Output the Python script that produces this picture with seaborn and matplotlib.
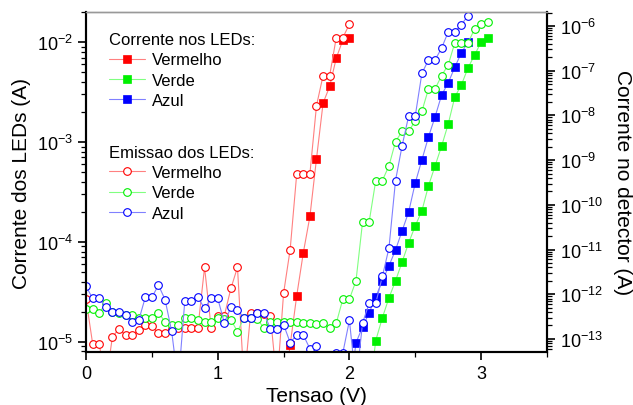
import numpy as np
import matplotlib
matplotlib.use('Agg')
import matplotlib.pyplot as plt
from matplotlib import ticker
import seaborn as sns

# tensao aplicada (V), passo de 0.05 V
tensao = [0.00, 0.05, 0.10, 0.15, 0.20, 0.25, 0.30, 0.35, 0.40, 0.45,
          0.50, 0.55, 0.60, 0.65, 0.70, 0.75, 0.80, 0.85, 0.90, 0.95,
          1.00, 1.05, 1.10, 1.15, 1.20, 1.25, 1.30, 1.35, 1.40, 1.45,
          1.50, 1.55, 1.60, 1.65, 1.70, 1.75, 1.80, 1.85, 1.90, 1.95,
          2.00, 2.05, 2.10, 2.15, 2.20, 2.25, 2.30, 2.35, 2.40, 2.45,
          2.50, 2.55, 2.60, 2.65, 2.70, 2.75, 2.80, 2.85, 2.90, 2.95,
          3.00, 3.05]

# corrente nos LEDs (A) - eixo esquerdo
v_cor_verm = tensao[30:41]
i_verm = [3e-6, 9.3e-6, 2.9e-5, 7.8e-5, 1.8e-4, 6.8e-4, 2.45e-3, 3.6e-3,
          6.9e-3, 1.05e-2, 1.1e-2]
v_cor_verd = tensao[43:62]
i_verd = [3e-6, 1.03e-5, 1.74e-5, 2.75e-5, 4.07e-5, 6.3e-5, 9.8e-5, 1.45e-4,
          2.04e-4, 3.63e-4, 5.75e-4, 9.1e-4, 1.51e-3, 2.82e-3, 3.72e-3,
          5.5e-3, 7.4e-3, 1.0e-2, 1.1e-2]
v_cor_azul = tensao[40:59]
i_azul = [3e-6, 9.8e-6, 1.41e-5, 1.95e-5, 2.82e-5, 4.07e-5, 5.75e-5, 8.3e-5,
          1.29e-4, 2.0e-4, 3.9e-4, 6.6e-4, 1.12e-3, 1.78e-3, 2.95e-3,
          3.9e-3, 5.6e-3, 7.8e-3, 1.0e-2]

# corrente no detector (A) - eixo direito (1e-14 = abaixo da escala)
v_em_verm = tensao[0:41]
d_verm = [7.8e-13, 7.9e-14, 7.9e-14, 1e-14, 1.1e-13, 1.7e-13, 1.2e-13, 1.2e-13,
          1.6e-13, 2.1e-13, 1.9e-13, 1.35e-13, 1.35e-13, 1.7e-13, 1.8e-13,
          1.8e-13, 1.8e-13, 1.8e-13, 4.0e-12, 1.8e-13, 3.3e-13, 3.3e-13,
          1.35e-12, 4.0e-12, 1e-14, 3.8e-13, 3.8e-13, 3.6e-13, 3.3e-13, 1e-14,
          1.05e-12, 1.0e-11, 5.0e-10, 5.0e-10, 5.0e-10, 1.66e-8, 7.8e-8,
          7.8e-8, 5.5e-7, 5.5e-7, 1.1e-6]
v_em_verd = tensao[0:62]
d_verd = [4.7e-13, 4.7e-13, 3.8e-13, 6.3e-13, 4.0e-13, 3.8e-13, 3.5e-13, 3.5e-13,
          3.0e-13, 3.0e-13, 3.0e-13, 3.8e-13, 2.45e-13, 2.0e-13, 2.0e-13,
          2.9e-13, 2.9e-13, 2.7e-13, 2.45e-13, 2.45e-13, 2.9e-13, 2.75e-13,
          2.7e-13, 1.45e-13, 3.0e-13, 3.0e-13, 2.75e-13, 1.8e-13, 2.45e-13,
          2.45e-13, 2.45e-13, 2.45e-13, 2.4e-13, 2.3e-13, 2.25e-13, 2.2e-13,
          2.25e-13, 1.75e-13, 2.25e-13, 7.8e-13, 7.8e-13, 2.0e-12, 4.2e-11,
          4.2e-11, 3.5e-10, 3.5e-10, 7.4e-10, 2.6e-9, 4.4e-9, 4.4e-9, 7.6e-9,
          1.23e-8, 3.9e-8, 3.9e-8, 7.8e-8, 1.35e-7, 4.2e-7, 4.2e-7, 4.2e-7,
          8.5e-7, 1.1e-6, 1.26e-6]
v_em_azul = tensao[0:59]
d_azul = [1.5e-12, 8.1e-13, 8.1e-13, 5.1e-13, 4.1e-13, 4.1e-13, 3.4e-13, 2.35e-13,
          2.6e-13, 8.5e-13, 8.5e-13, 1.6e-12, 7.6e-13, 1.5e-13, 1e-14, 7.1e-13,
          7.1e-13, 8.5e-13, 4.8e-13, 8.1e-13, 8.1e-13, 2.3e-13, 5.1e-13,
          4.5e-13, 2.95e-13, 2.95e-13, 3.8e-13, 3.8e-13, 1.7e-13, 1.7e-13,
          2.1e-13, 8.3e-14, 1.23e-13, 1.23e-13, 6.0e-14, 7.1e-14, 1e-14, 1e-14,
          4.9e-14, 4.9e-14, 2.6e-13, 1e-14, 2.3e-13, 6.3e-13, 6.3e-13, 2.5e-12,
          1.07e-11, 3.5e-10, 2.1e-9, 9.8e-9, 9.8e-9, 8.7e-8, 1.74e-7, 1.74e-7,
          3.2e-7, 7.4e-7, 7.4e-7, 1.07e-6, 1.7e-6]

nomes = ['Vermelho', 'Verde', 'Azul']
cores = ['#ff0000', '#00f000', '#0000ff']
cores_linha = ['#ff8080', '#80ff80', '#8080ff']

sns.set_style('ticks', {'axes.edgecolor': 'black', 'xtick.color': 'black',
                        'ytick.color': 'black', 'text.color': 'black',
                        'axes.labelcolor': 'black'})
plt.rcParams['font.family'] = ['Liberation Sans', 'DejaVu Sans']
plt.rcParams['mathtext.default'] = 'regular'

fig, ax = plt.subplots(figsize=(6.33, 4.06), dpi=100)
fig.subplots_adjust(left=0.1359, right=0.8641, top=0.968, bottom=0.1305)
ax2 = ax.twinx()
ax.set_yscale('log')
ax2.set_yscale('log')

correntes = [(v_cor_verm, i_verm), (v_cor_verd, i_verd), (v_cor_azul, i_azul)]
emissoes = [(v_em_verm, d_verm), (v_em_verd, d_verd), (v_em_azul, d_azul)]

for (v, i), nome, c, cl in zip(correntes, nomes, cores, cores_linha):
    sns.lineplot(x=v, y=i, ax=ax, color=cl, linewidth=0.8, marker='s',
                 markersize=5.5, markerfacecolor=c, markeredgecolor=c,
                 markeredgewidth=0.5, label=nome, legend=False)

for (v, d), nome, c, cl in zip(emissoes, nomes, cores, cores_linha):
    sns.lineplot(x=v, y=d, ax=ax2, color=cl, linewidth=0.8, marker='o',
                 markersize=5.5, markerfacecolor='white', markeredgecolor=c,
                 markeredgewidth=0.8, label=nome, legend=False)

ax.set_xlim(0, 3.5)
ax.set_ylim(7.9e-6, 2.0e-2)
ax2.set_ylim(5.1e-14, 2.06e-6)

ax.xaxis.set_major_locator(ticker.MultipleLocator(1))
ax.xaxis.set_minor_locator(ticker.MultipleLocator(0.5))
for a in (ax, ax2):
    a.yaxis.set_major_locator(ticker.LogLocator(base=10, numticks=20))
    a.yaxis.set_minor_locator(ticker.LogLocator(base=10, subs=np.arange(2, 10) * 1.0, numticks=200))
    a.yaxis.set_minor_formatter(ticker.NullFormatter())
    a.tick_params(which='major', direction='out', length=6, width=1.2, labelsize=13)
    a.tick_params(which='minor', direction='out', length=3.5, width=0.9)
    for s in a.spines.values():
        s.set_linewidth(1.5)
        s.set_color('black')
    a.spines['top'].set_color('#999999')
    a.spines['top'].set_linewidth(1.0)

ax.set_xlabel('Tensao (V)', fontsize=15, labelpad=3)
ax.set_ylabel('Corrente dos LEDs (A)', fontsize=15, labelpad=4)
ax2.set_ylabel('Corrente no detector (A)', fontsize=15, rotation=270, labelpad=21)

h_cor = ax.get_lines()[:3]
h_em = ax2.get_lines()[:3]
leg1 = ax2.legend(handles=h_cor, labels=nomes, title='Corrente nos LEDs:',
                  loc='upper left', bbox_to_anchor=(0.035, 0.96), frameon=False,
                  fontsize=12, title_fontsize=12, alignment='left',
                  handlelength=2.2, handletextpad=0.4, labelspacing=0.31,
                  borderaxespad=0)
ax2.add_artist(leg1)
ax2.legend(handles=h_em, labels=nomes, title='Emissao dos LEDs:',
           loc='upper left', bbox_to_anchor=(0.035, 0.628), frameon=False,
           fontsize=12, title_fontsize=12, alignment='left',
           handlelength=2.2, handletextpad=0.4, labelspacing=0.31,
           borderaxespad=0)

fig.savefig('out.png', dpi=100)
